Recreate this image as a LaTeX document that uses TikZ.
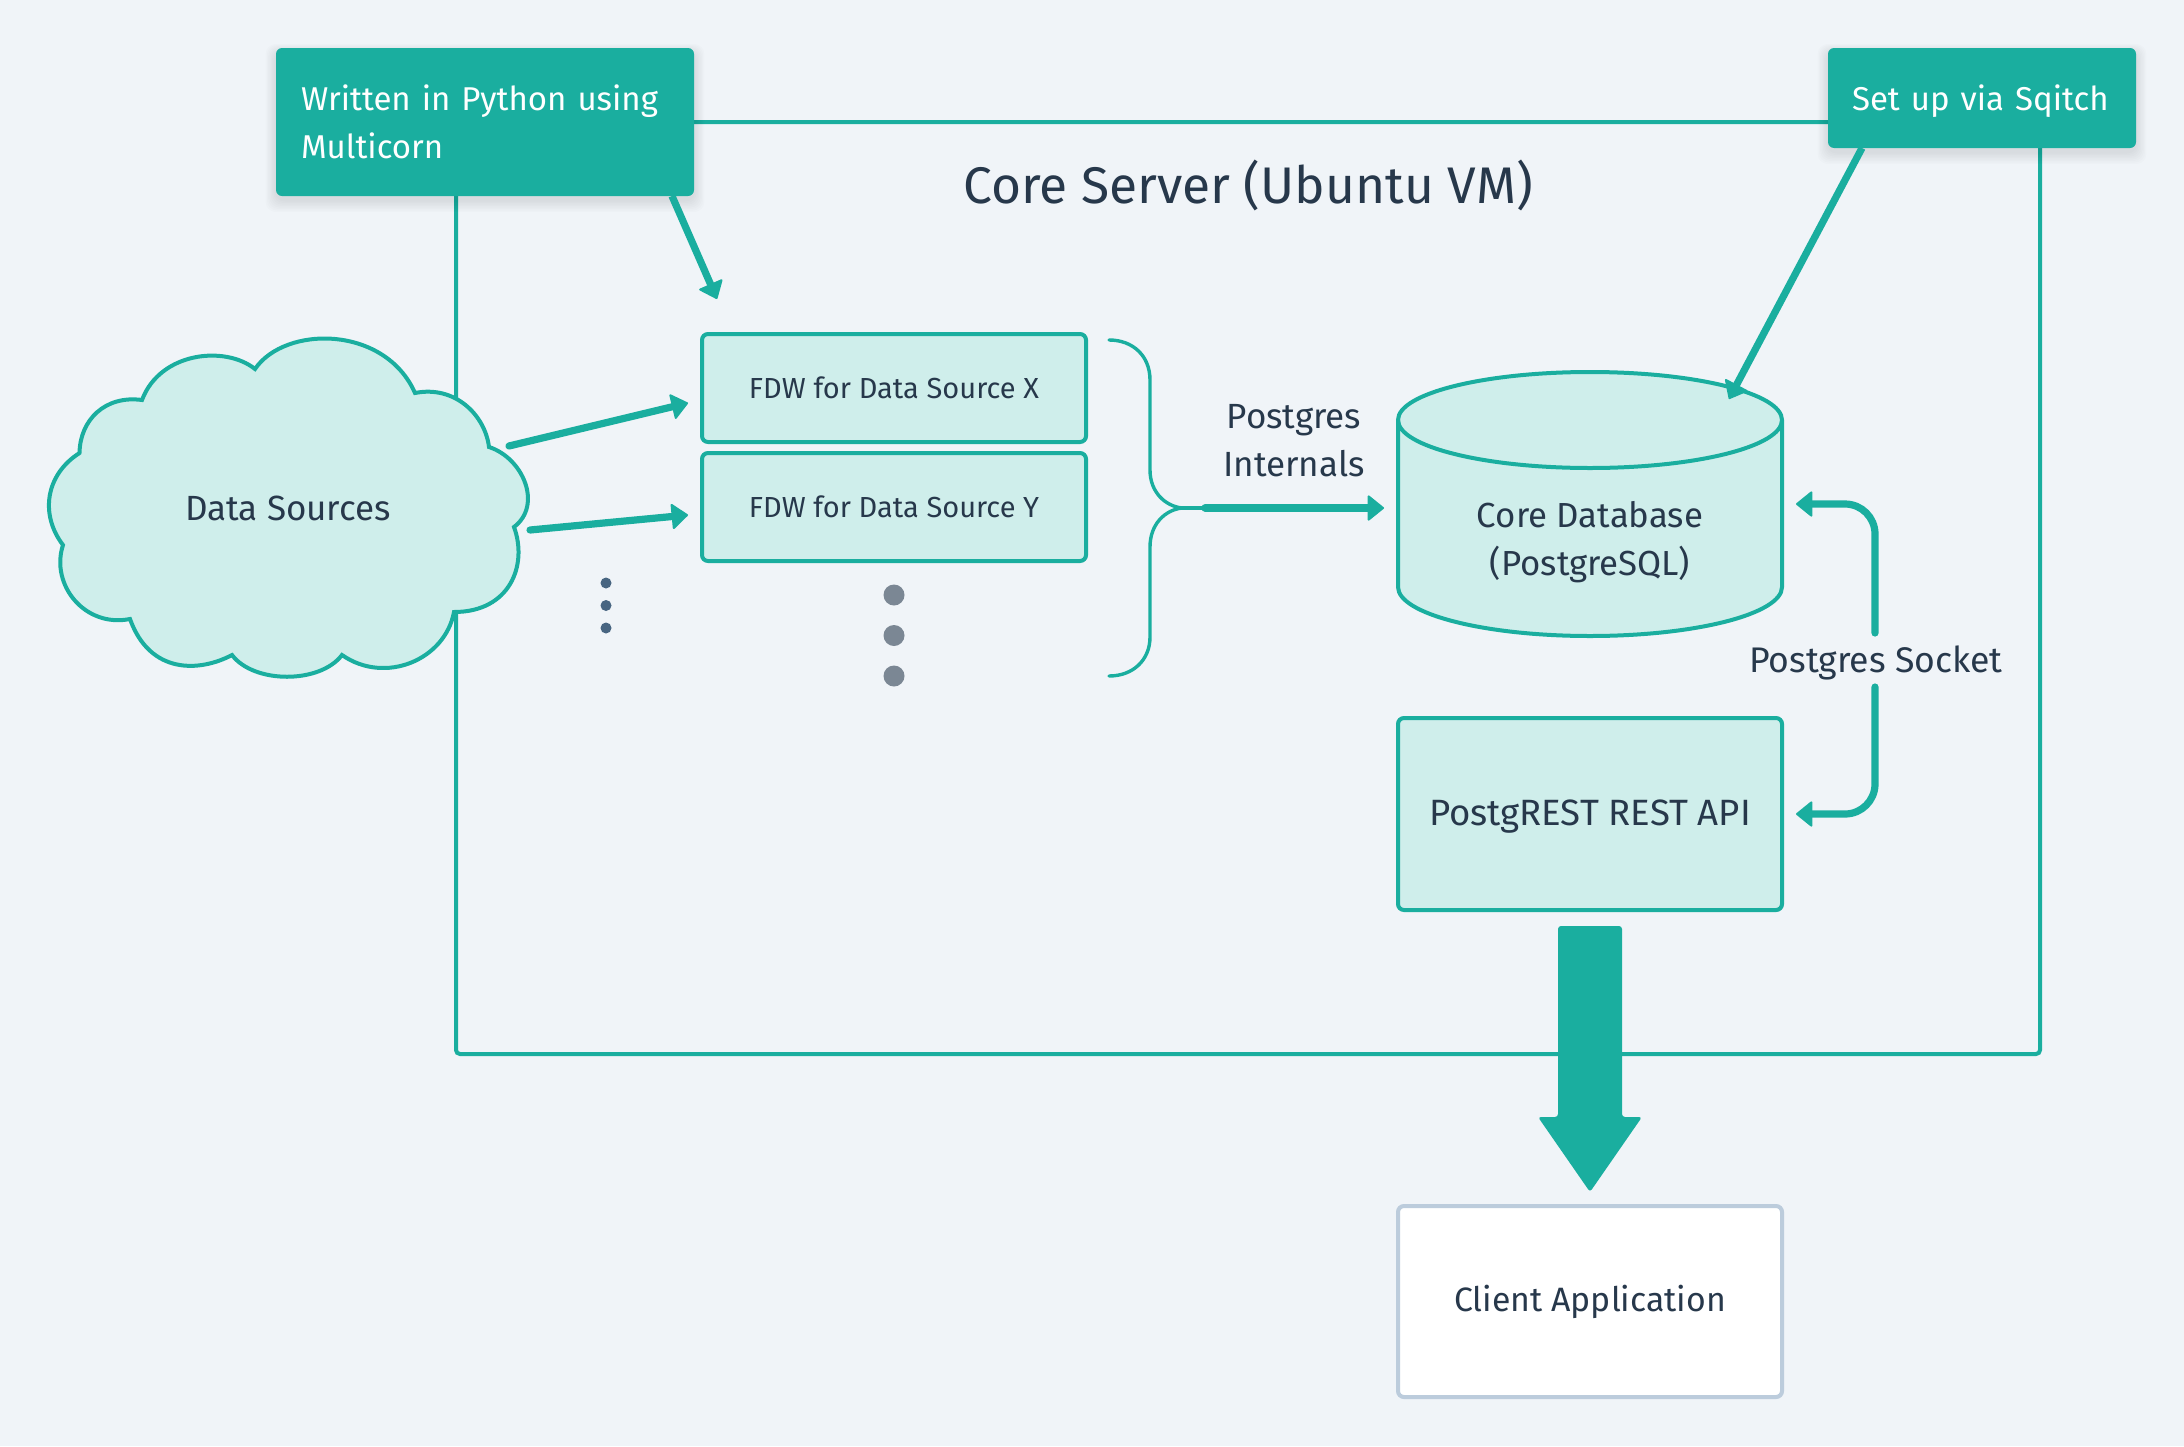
\documentclass[tikz,border=0pt]{standalone}
\usepackage{fontspec}
\setmainfont{Fira Sans}
\usetikzlibrary{arrows.meta,shapes.geometric}
\definecolor{bgc}{HTML}{F0F4F8}
\definecolor{tealc}{HTML}{1AAE9F}
\definecolor{lightc}{HTML}{CFEEEB}
\definecolor{txtc}{HTML}{27384B}
\definecolor{bordc}{HTML}{BCCCDC}
\definecolor{smalld}{HTML}{486581}
\definecolor{bigd}{HTML}{7B8794}
\tikzset{
  x=0.5pt,y=-0.5pt,
  txt/.style={text=txtc,inner sep=0pt,outer sep=0pt,align=center,font=\fontsize{17.5}{24}\selectfont},
  fbox/.style={draw=tealc,fill=lightc,line width=2pt,rounded corners=3pt,inner sep=0pt,outer sep=0pt},
  note/.style={fill=tealc,text=white,rounded corners=3pt,inner sep=0pt,outer sep=0pt,align=left,font=\fontsize{16.5}{24}\selectfont},
  conn/.style={draw=tealc,line width=3.6pt,line cap=round,-{Triangle[length=8.5pt,width=13.5pt,line width=1pt,round]}},
  softshadow/.style={fill=black,fill opacity=0.010,draw=none},
}
\begin{document}
\begin{tikzpicture}
\useasboundingbox (0,0) rectangle (2184,1446);
\fill[bgc] (0,0) rectangle (2184,1446);
% server frame
\node[draw=tealc,line width=2pt,rounded corners=2pt,minimum width=792pt,minimum height=466pt,inner sep=0pt] (server) at (1248,588) {};
\node[txt,font=\fontsize{25.75}{30}\selectfont] (servertitle) at (1248,185) {Core Server (Ubuntu VM)};
% cloud
\coordinate (ca) at (255,369); \coordinate (cb) at (415,393); \coordinate (cc) at (489,447);
\coordinate (cd) at (514,527); \coordinate (ce) at (454,612); \coordinate (cf) at (342,655);
\coordinate (cg) at (232,655); \coordinate (ch) at (130,619); \coordinate (ci) at (63,545);
\coordinate (cj) at (79.5,453); \coordinate (ck) at (142,400);
\draw[draw=tealc,fill=lightc,line width=2pt,line join=miter]
  (ca) .. controls (285,325) and (385,325) .. (cb)
  .. controls (455,385) and (485,415) .. (cc)
  .. controls (523,458) and (543,505) .. (cd)
  .. controls (528,565) and (510,612) .. (ce)
  .. controls (445,660) and (385,685) .. (cf)
  .. controls (320,684) and (254,684) .. (cg)
  .. controls (200,672) and (150,675) .. (ch)
  .. controls (85,628) and (50,585) .. (ci)
  .. controls (40,515) and (45,475) .. (cj)
  .. controls (80,420) and (105,395) .. (ck)
  .. controls (160,352) and (225,345) .. (ca) -- cycle;
\node[txt] (cloud) at (288,508) {Data Sources};
% FDW boxes
\node[fbox,minimum width=192pt,minimum height=54pt] (fdwx) at (894,388) {};
\node[txt,font=\fontsize{14.5}{20}\selectfont] (fdwxt) at (894,388) {FDW for Data Source X};
\node[fbox,minimum width=192pt,minimum height=54pt] (fdwy) at (894,507) {};
\node[txt,font=\fontsize{14.5}{20}\selectfont] (fdwyt) at (894,507) {FDW for Data Source Y};
% dots
\foreach \n/\yy in {a/583,b/605.5,c/628}
  \node[circle,fill=smalld,minimum size=5.5pt,inner sep=0pt] (sd\n) at (606,\yy) {};
\foreach \n/\yy in {a/595,b/635.5,c/676}
  \node[circle,fill=bigd,minimum size=10.5pt,inner sep=0pt] (bd\n) at (894,\yy) {};
% brace
\coordinate (bracetop) at (1109,340); \coordinate (bracebot) at (1109,676); \coordinate (bracejoin) at (1182,508); \coordinate (bracetip) at (1205,508);
\draw[tealc,line width=1.7pt,line cap=round]
  (bracetop) .. controls (1133,340) and (1150,356) .. (1150,380) -- (1150,470)
  .. controls (1150,492) and (1165,506) .. (bracejoin)
  .. controls (1165,510) and (1150,524) .. (1150,547) -- (1150,637)
  .. controls (1150,660) and (1133,676) .. (bracebot);
\draw[tealc,line width=1.7pt] (bracejoin) -- (bracetip);
% database
\fill[lightc,draw=tealc,line width=2pt] (1398,420) .. controls (1398,393.5) and (1484,372) .. (1590,372)
  .. controls (1696,372) and (1782,393.5) .. (1782,420) -- (1782,587)
  .. controls (1782,613.8) and (1696,636) .. (1590,636)
  .. controls (1484,636) and (1398,613.8) .. (1398,587) -- cycle;
\draw[tealc,line width=2pt] (1398,420) .. controls (1398,446.5) and (1484,468) .. (1590,468)
  .. controls (1696,468) and (1782,446.5) .. (1782,420);
\node[txt,minimum width=192pt,minimum height=132pt,font=\fontsize{17.4}{24}\selectfont] (dbt) at (1590,542) {Core Database\\(PostgreSQL)};
\node[fbox,minimum width=192pt,minimum height=96pt] (rest) at (1590,814) {};
\node[txt,font=\fontsize{18.3}{24}\selectfont] (restt) at (1590,817) {PostgREST REST API};
\node[draw=bordc,fill=white,line width=2pt,rounded corners=3pt,minimum width=192pt,minimum height=95.5pt,inner sep=0pt,text=txtc,font=\fontsize{16.9}{24}\selectfont] (client) at (1590,1301.5) {Client Application};
\node[txt] (internals) at (1294,441) {Postgres\\Internals};
\node[txt,font=\fontsize{17.8}{24}\selectfont] (socket) at (1876,663) {Postgres Socket};
% arrows
\coordinate (a1s) at (509,446); \coordinate (a1e) at (688,403);
\coordinate (a2s) at (530,530); \coordinate (a2e) at (688,515);
\draw[conn] (a1s) -- (a1e);
\draw[conn] (a2s) -- (a2e);
\coordinate (dbin) at (1384,508);
\draw[conn] (bracetip) -- (dbin);
\coordinate (sockmid1) at (1875,633); \coordinate (sockmid2) at (1875,687);
\coordinate (dbport) at (1796,504); \coordinate (restport) at (1796,814);
\draw[conn,rounded corners=15pt] (sockmid1) |- (dbport);
\draw[conn,rounded corners=15pt] (sockmid2) |- (restport);
\coordinate (bigs) at (1590,926); \coordinate (bige) at (1590,1190);
\fill[tealc,rounded corners=1.5pt] (1558,926) -- (1622,926) -- (1622,1117) -- (1642,1117) -- (1590,1192) -- (1538,1117) -- (1558,1117) -- cycle;
% notes
\foreach \i in {1,...,8}{
 \fill[softshadow,rounded corners=5pt] (276-\i*1.3,48+4-\i) rectangle (694+\i*1.3,196+4+\i*1.5);
 \fill[softshadow,rounded corners=5pt] (1828-\i*1.3,48+4-\i) rectangle (2136+\i*1.3,148+4+\i*1.5);
}
\coordinate (n1s) at (672,196); \coordinate (n1e) at (717,299);
\coordinate (n2s) at (1862,148); \coordinate (n2e) at (1729,399);
\draw[conn,line cap=butt] (n1s) -- (n1e);
\draw[conn,line cap=butt] (n2s) -- (n2e);
\node[note,minimum width=209pt,minimum height=74pt,text width=184pt] (python) at (485,122) {Written in Python using\\Multicorn};
\node[note,minimum width=154pt,minimum height=50pt,text width=130pt,text depth=0pt] (sqitch) at (1982,98) {Set up via Sqitch};
\end{tikzpicture}
\end{document}
